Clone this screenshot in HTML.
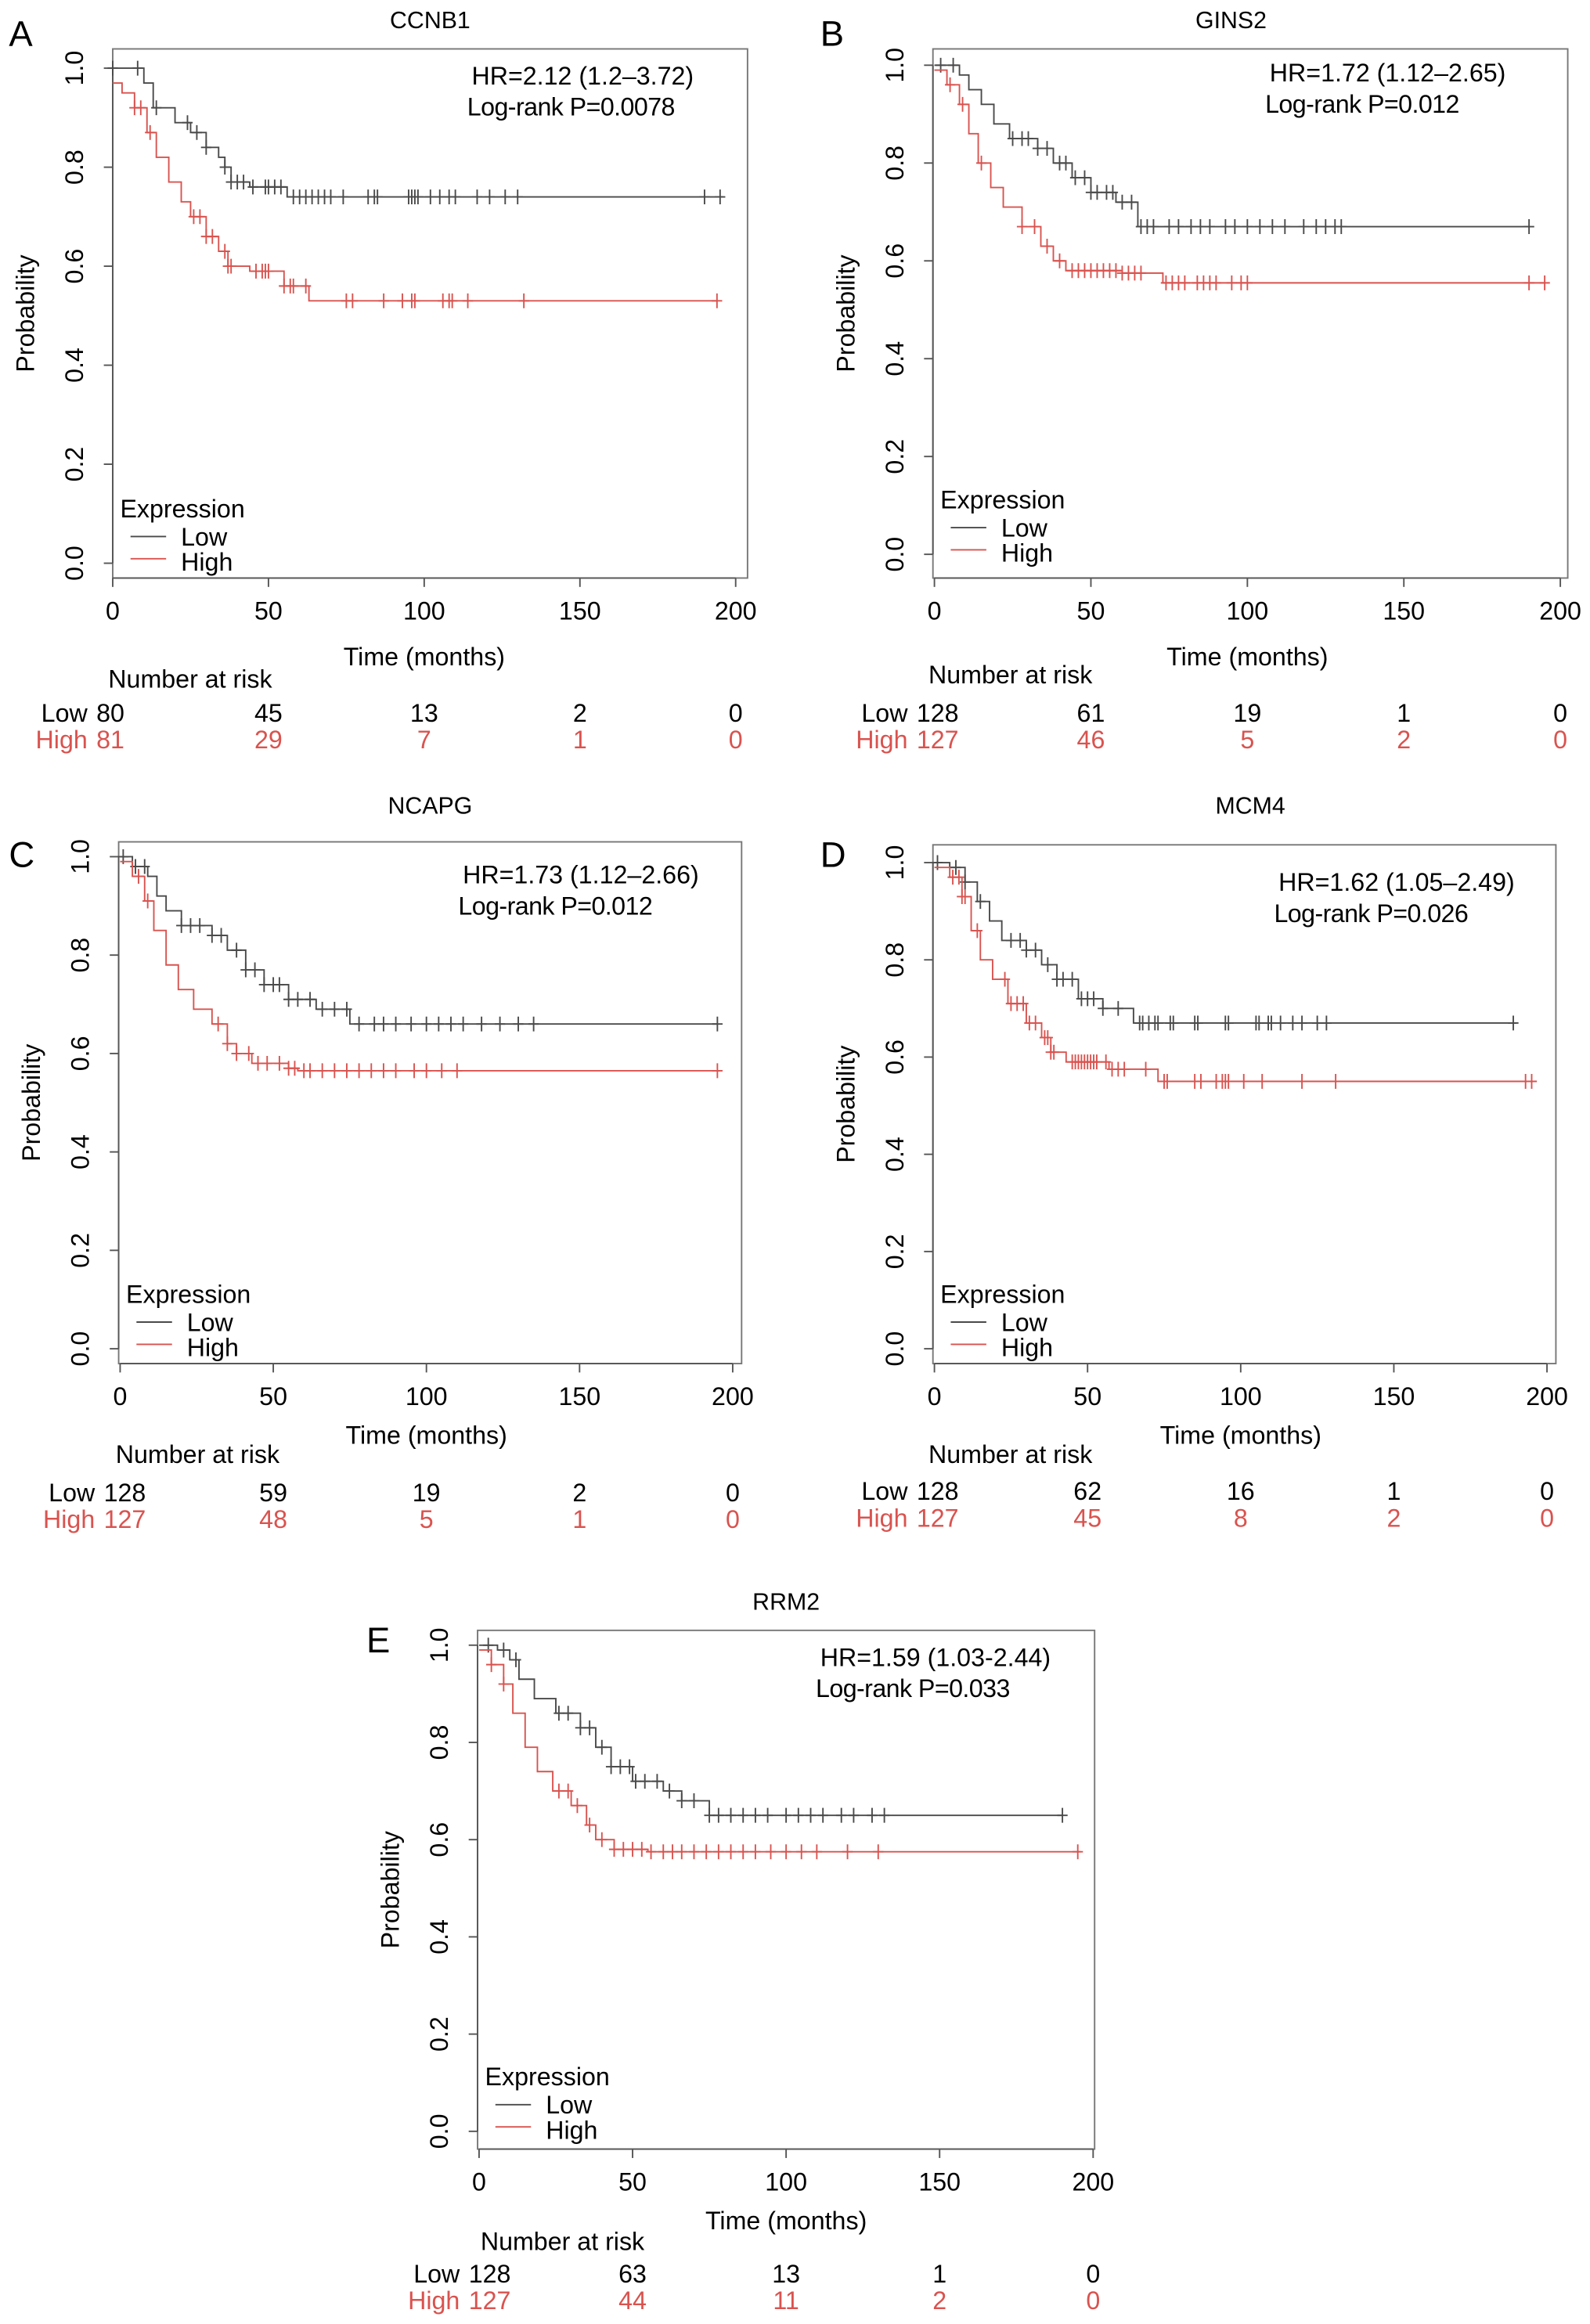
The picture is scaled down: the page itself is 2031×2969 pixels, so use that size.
<!DOCTYPE html>
<html><head><meta charset="utf-8">
<style>
html,body{margin:0;padding:0;background:#fff;}
svg{display:block;}
text{font-family:"Liberation Sans",Arial,sans-serif;}
</style></head>
<body>
<svg id="fig" xmlns="http://www.w3.org/2000/svg" width="2031" height="2969" viewBox="0 0 1072 1568" preserveAspectRatio="none">
<rect x="0" y="0" width="1072" height="1568" fill="#fff"/>
</svg>
<script>
// ---- data ----
const xTicks = [0, 50, 100, 150, 200];
const yTicks = [0.0, 0.2, 0.4, 0.6, 0.8, 1.0];
const yTickLabels = ["0.0", "0.2", "0.4", "0.6", "0.8", "1.0"];
const titles = ["CCNB1", "GINS2", "NCAPG", "MCM4", "RRM2"];
const letters = ["A", "B", "C", "D", "E"];
const hrText = ["HR=2.12 (1.2\u20133.72)", "HR=1.72 (1.12\u20132.65)", "HR=1.73 (1.12\u20132.66)", "HR=1.62 (1.05\u20132.49)", "HR=1.59 (1.03-2.44)"];
const pText = ["Log-rank P=0.0078", "Log-rank P=0.012", "Log-rank P=0.012", "Log-rank P=0.026", "Log-rank P=0.033"];
const riskLow = [[80,45,13,2,0],[128,61,19,1,0],[128,59,19,2,0],[128,62,16,1,0],[128,63,13,1,0]];
const riskHigh = [[81,29,7,1,0],[127,46,5,2,0],[127,48,5,1,0],[127,45,8,2,0],[127,44,11,2,0]];
// step curves: [time, survival after step]
const lowSteps = [
 [[0,1],[10,0.97],[13,0.92],[20,0.89],[25,0.87],[30,0.84],[34,0.82],[36,0.80],[38,0.77],[44,0.76],[56,0.74],[196,0.74]],
 [[0,1],[8,0.98],[11,0.95],[15,0.92],[19,0.88],[24,0.85],[33,0.83],[38,0.80],[44,0.77],[50,0.74],[58,0.72],[65,0.67],[190,0.67]],
 [[0,1],[4,0.98],[9,0.96],[12,0.92],[15,0.89],[20,0.86],[30,0.84],[35,0.81],[41,0.77],[47,0.74],[55,0.71],[64,0.69],[75,0.66],[195,0.66]],
 [[0,1],[5,0.99],[10,0.96],[14,0.92],[18,0.88],[22,0.84],[30,0.82],[35,0.79],[40,0.76],[47,0.72],[55,0.70],[65,0.67],[190,0.67]],
 [[0,1],[6,0.99],[10,0.97],[13,0.93],[18,0.89],[25,0.86],[33,0.83],[38,0.79],[43,0.75],[50,0.72],[60,0.70],[66,0.68],[75,0.65],[190,0.65]]
];
const highSteps = [
 [[0,0.97],[3,0.95],[7,0.92],[11,0.87],[14,0.82],[18,0.77],[22,0.73],[25,0.70],[30,0.66],[34,0.63],[37,0.60],[44,0.59],[55,0.56],[63,0.53],[194,0.53]],
 [[0,0.99],[4,0.96],[8,0.92],[11,0.86],[14,0.80],[18,0.75],[22,0.71],[28,0.67],[34,0.63],[38,0.60],[42,0.58],[60,0.575],[73,0.555],[195,0.555]],
 [[0,0.99],[4,0.96],[8,0.91],[11,0.85],[15,0.78],[19,0.73],[24,0.69],[30,0.66],[35,0.62],[38,0.60],[43,0.58],[55,0.57],[58,0.565],[196,0.565]],
 [[0,0.99],[5,0.97],[9,0.93],[12,0.86],[15,0.80],[19,0.76],[24,0.71],[30,0.67],[35,0.64],[38,0.61],[43,0.59],[57,0.575],[73,0.55],[196,0.55]],
 [[0,0.99],[4,0.96],[8,0.92],[11,0.86],[15,0.79],[19,0.74],[24,0.70],[30,0.67],[35,0.63],[38,0.60],[44,0.58],[55,0.575],[196,0.575]]
];
const lowCens = [
 [0,8,14,24,27,30,36,38,40,42,45,49,50,52,54,58,60,62,64,66,68,70,74,82,84,85,95,96,97,98,102,105,108,110,117,121,126,130,190,195],
 [2,6,25,28,30,33,36,40,42,45,48,50,52,55,57,60,63,66,68,70,75,78,82,85,88,93,96,100,104,108,112,118,122,125,128,130,190],
 [1,5,8,20,23,26,30,33,38,41,44,47,50,52,55,58,62,66,70,74,78,83,86,90,95,100,104,108,112,118,124,130,135,195],
 [1,7,10,15,25,28,30,33,37,40,42,45,48,50,52,55,60,67,68,70,72,73,77,78,85,86,95,96,105,106,109,110,113,117,120,125,128,189],
 [3,8,12,26,29,33,36,40,43,46,49,51,54,58,62,66,70,75,78,82,86,90,94,100,104,108,112,118,122,128,132,190]
];
const highCens = [
 [7,9,12,26,28,30,32,36,37,38,46,48,49,50,55,57,58,62,75,77,87,93,96,97,106,108,109,114,132,194],
 [5,9,15,28,32,36,40,44,46,48,50,52,54,56,58,60,62,64,66,74,76,78,80,84,86,88,90,95,98,100,190,195],
 [6,9,32,35,38,42,45,48,52,55,57,60,62,66,70,74,78,82,86,90,96,100,105,110,195],
 [6,8,9,10,14,23,25,27,29,31,33,36,37,38,39,45,46,47,48,49,50,51,52,53,56,58,60,62,69,75,76,85,87,92,94,95,96,101,107,120,131,193,195],
 [4,8,26,29,32,36,40,44,47,50,53,56,60,63,66,70,74,78,82,86,90,95,100,105,110,120,130,195]
];
// ---- layout (figure units) ----
const panels = [
 {bx0:76,bx1:504,by0:33,by1:390,x0:76,x200:496,y1:46,y0:380,lx:6,ly:31,tx:290,ty:19,hrx:318,hry:57,timeY:449,narY:464,rowY:[487,505],labX:59},
 {bx0:629,bx1:1057,by0:33,by1:390,x0:630,x200:1052,y1:44,y0:374,lx:553,ly:31,tx:830,ty:19,hrx:856,hry:55,timeY:449,narY:461,rowY:[487,505],labX:612},
 {bx0:80,bx1:500,by0:568,by1:920,x0:81,x200:494,y1:578,y0:910,lx:6,ly:585,tx:290,ty:549,hrx:312,hry:596,timeY:974,narY:987,rowY:[1013,1031],labX:64},
 {bx0:629,bx1:1049,by0:570,by1:920,x0:630,x200:1043,y1:582,y0:910,lx:553,ly:585,tx:843,ty:549,hrx:862,hry:601,timeY:974,narY:987,rowY:[1012,1030],labX:612},
 {bx0:322,bx1:738,by0:1100,by1:1450,x0:323,x200:737,y1:1110,y0:1438,lx:247,ly:1115,tx:530,ty:1086,hrx:553,hry:1124,timeY:1504,narY:1518,rowY:[1540,1558],labX:310}
];
const svg = document.getElementById('fig');
const NS = 'http://www.w3.org/2000/svg';
const FS = 17;
function mk(tag, attrs, parent){
  const e = document.createElementNS(NS, tag);
  for (const k in attrs) e.setAttribute(k, attrs[k]);
  (parent||svg).appendChild(e);
  return e;
}
function txt(s, attrs, parent){ const e = mk('text', attrs, parent); e.textContent = s; return e; }
const LOW = '#4a4a4a', HIGH = '#d9534f';
function survAt(steps, t){ let s = steps[0][1]; for (const p of steps){ if (p[0] <= t) s = p[1]; } return s; }

panels.forEach((P, i) => {
  const g = mk('g', {});
  
  
  const sx = t => P.x0 + (P.x200 - P.x0) * t / 200;
  const sy = v => P.y0 - (P.y0 - P.y1) * v;
  const L = txt(letters[i], {x:P.lx, y:P.ly, 'font-size':24, fill:'#000'}, g);
  
  
  const T = txt(titles[i], {x:P.tx, y:P.ty, 'font-size':16, fill:'#000', 'text-anchor':'middle'}, g);
  
  
  const B = mk('rect', {x:P.bx0, y:P.by0, width:P.bx1-P.bx0, height:P.by1-P.by0, fill:'none', stroke:'#777', 'stroke-width':1}, g);
  
  
  // x axis
  const xa = mk('g', {}, g);
  
  
  mk('line', {x1:sx(0), x2:sx(200), y1:P.by1, y2:P.by1, stroke:'#555'}, xa);
  xTicks.forEach(t => {
    mk('line', {x1:sx(t), x2:sx(t), y1:P.by1, y2:P.by1+6, stroke:'#555'}, xa);
    const tl = txt(String(t), {x:sx(t), y:P.by1+28, 'font-size':FS, 'text-anchor':'middle', fill:'#000'}, xa);
    
    
  });
  const xt = txt('Time (months)', {x:(sx(0)+sx(200))/2, y:P.timeY, 'font-size':FS, 'text-anchor':'middle', fill:'#000'}, g);
  
  
  // y axis
  const ya = mk('g', {}, g);
  
  
  mk('line', {x1:P.bx0, x2:P.bx0, y1:sy(0), y2:sy(1), stroke:'#555'}, ya);
  yTicks.forEach((v, k) => {
    mk('line', {x1:P.bx0-6, x2:P.bx0, y1:sy(v), y2:sy(v), stroke:'#555'}, ya);
    const tx = P.bx0 - 20, ty = sy(v);
    const tl = txt(yTickLabels[k], {x:tx, y:ty, 'font-size':FS, 'text-anchor':'middle', fill:'#000', transform:`rotate(-90 ${tx} ${ty})`}, ya);
    
    
  });
  const yx = P.bx0 - 53, yy = (P.by0 + P.by1) / 2;
  const yt = txt('Probability', {x:yx, y:yy, 'font-size':FS, 'text-anchor':'middle', fill:'#000', transform:`rotate(-90 ${yx} ${yy})`}, g);
  
  
  // curves
  [[lowSteps[i], lowCens[i], LOW, 'low'], [highSteps[i], highCens[i], HIGH, 'high']].forEach(([steps, cens, col, nm]) => {
    let d = `M${sx(steps[0][0])},${sy(steps[0][1])}`;
    for (let k = 1; k < steps.length; k++) {
      d += ` H${sx(steps[k][0])} V${sy(steps[k][1])}`;
    }
    const c = mk('path', {d:d, fill:'none', stroke:col, 'stroke-width':1}, g);
    
    
    const cg = mk('g', {stroke:col, 'stroke-width':1}, g);
    
    
    cens.forEach(t => {
      const x = sx(t), y = sy(survAt(steps, t));
      mk('path', {d:`M${x-3.5},${y} H${x+3.5} M${x},${y-5} V${y+5}`}, cg);
    });
  });
  // HR text
  const hr = txt(hrText[i], {x:P.hrx, y:P.hry, 'font-size':FS, fill:'#000'}, g);
  
  
  const pv = txt(pText[i], {x:P.hrx-3, y:P.hry+21, 'font-size':FS, fill:'#000', 'letter-spacing':'-0.3'}, g);
  
  
  // legend
  const lg = mk('g', {}, g);
  
  
  const lx = P.bx0 + 5;
  txt('Expression', {x:lx, y:sy(0)-31, 'font-size':FS, fill:'#000'}, lg);
  mk('line', {x1:lx+7, x2:lx+31, y1:sy(0)-18, y2:sy(0)-18, stroke:LOW}, lg);
  txt('Low', {x:lx+41, y:sy(0)-12, 'font-size':FS, fill:'#000'}, lg);
  mk('line', {x1:lx+7, x2:lx+31, y1:sy(0)-3, y2:sy(0)-3, stroke:HIGH}, lg);
  txt('High', {x:lx+41, y:sy(0)+5, 'font-size':FS, fill:'#000'}, lg);
  // risk table
  const rt = mk('g', {}, g);
  
  
  txt('Number at risk', {x:P.labX+14, y:P.narY, 'font-size':FS, fill:'#000'}, rt);
  txt('Low', {x:P.labX, y:P.rowY[0], 'font-size':FS, fill:'#000', 'text-anchor':'end'}, rt);
  txt('High', {x:P.labX, y:P.rowY[1], 'font-size':FS, fill:HIGH, 'text-anchor':'end'}, rt);
  xTicks.forEach((t, k) => {
    const anchor = k === 0 ? 'start' : 'middle';
    const x = k === 0 ? P.labX + 6 : sx(t);
    txt(String(riskLow[i][k]), {x:x, y:P.rowY[0], 'font-size':FS, fill:'#000', 'text-anchor':anchor}, rt);
    txt(String(riskHigh[i][k]), {x:x, y:P.rowY[1], 'font-size':FS, fill:HIGH, 'text-anchor':anchor}, rt);
  });
});
</script>
</body></html>
